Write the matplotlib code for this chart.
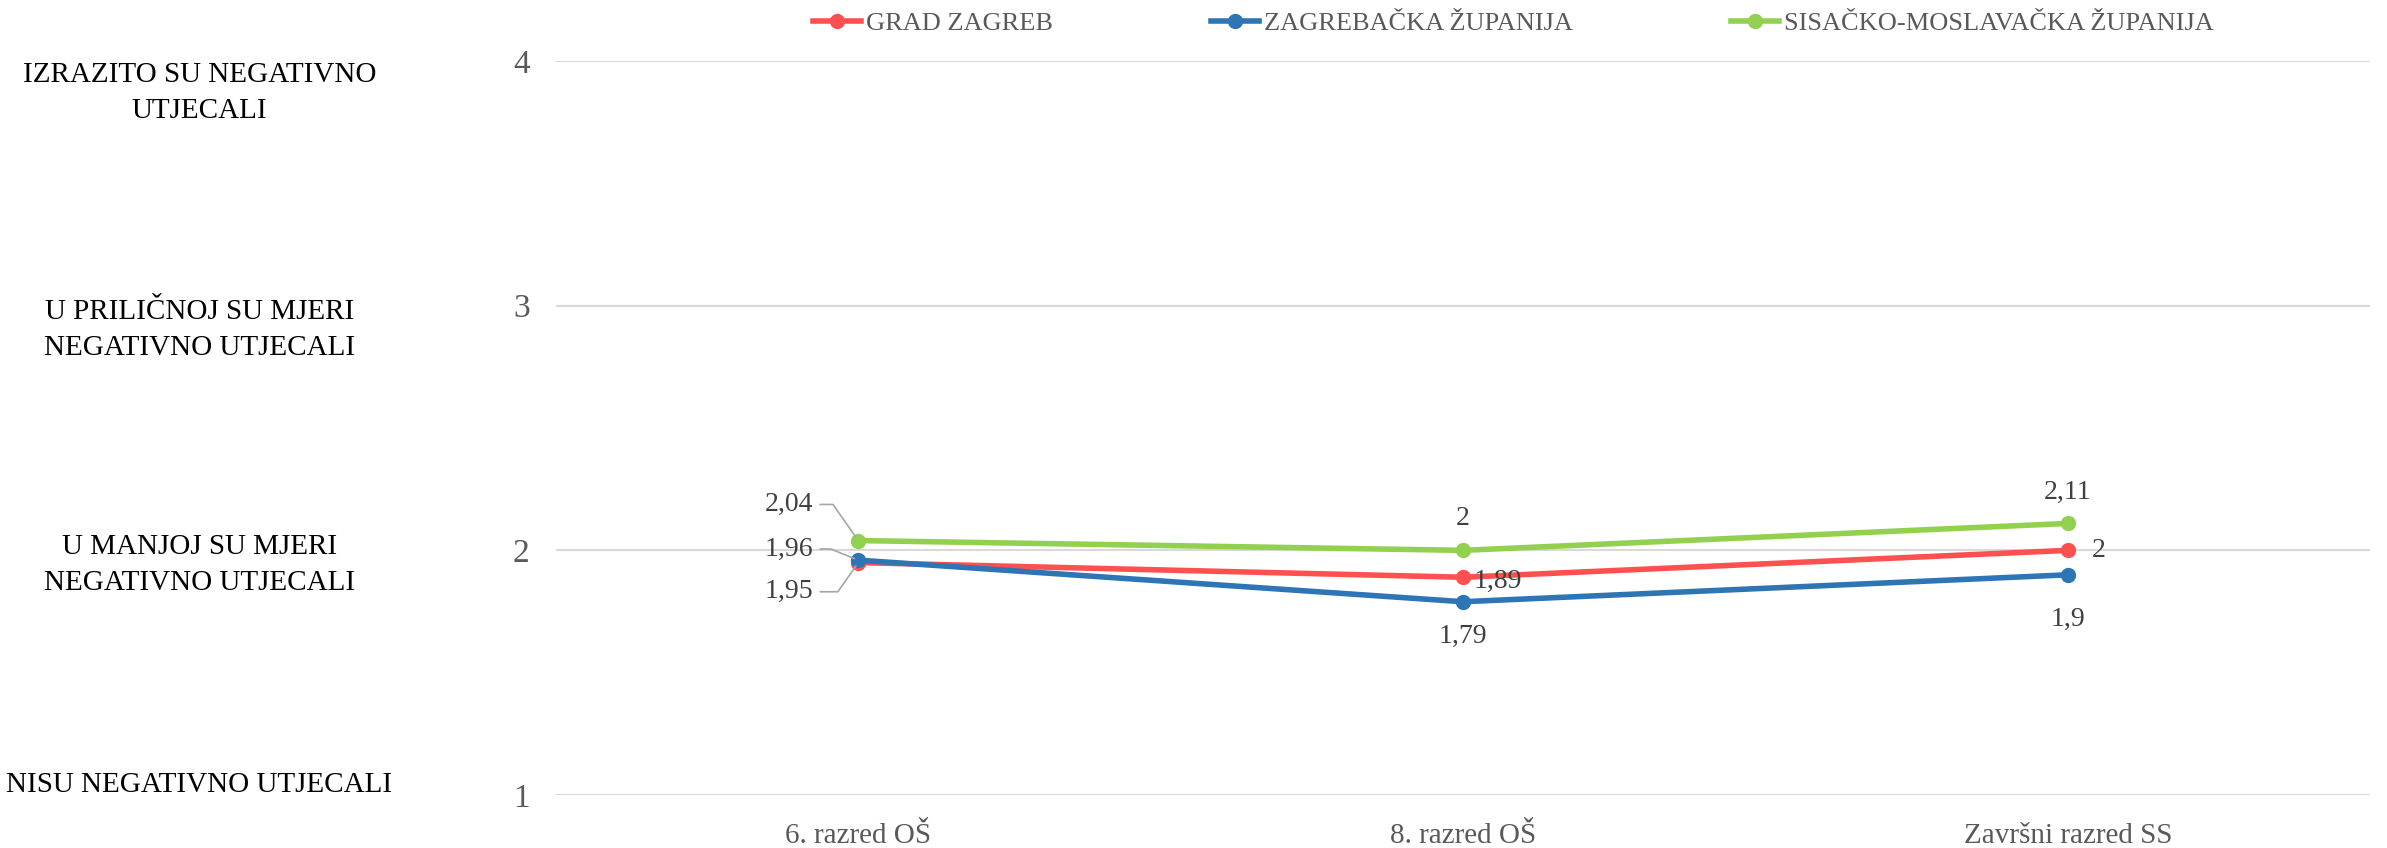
import matplotlib.pyplot as plt
from matplotlib.transforms import blended_transform_factory

plt.rcParams['font.family'] = ['Liberation Serif', 'DejaVu Serif']

# Data
categories = ['6. razred OŠ', '8. razred OŠ', 'Završni razred SS']
series_names = ['GRAD ZAGREB', 'ZAGREBAČKA ŽUPANIJA', 'SISAČKO-MOSLAVAČKA ŽUPANIJA']
grad_zagreb = [1.95, 1.89, 2.00]
zagrebacka = [1.96, 1.79, 1.90]
sisacko = [2.04, 2.00, 2.11]
y_ticks = [1, 2, 3, 4]
scale_labels = ['NISU NEGATIVNO UTJECALI',
                'U MANJOJ SU MJERI\nNEGATIVNO UTJECALI',
                'U PRILIČNOJ SU MJERI\nNEGATIVNO UTJECALI',
                'IZRAZITO SU NEGATIVNO\nUTJECALI']

colors = ['#FF5050', '#2E75B6', '#92D050']
values = [grad_zagreb, zagrebacka, sisacko]

fig = plt.figure(figsize=(23.87, 8.48), dpi=100)
ax = fig.add_axes([0.2329, 0.0625, 0.76, 0.8655])

x = list(range(len(categories)))
for name, vals, c in zip(series_names, values, colors):
    ax.plot(x, vals, color=c, lw=4, marker='o', ms=10, label=name, zorder=3)

ax.set_xlim(-0.5, len(categories) - 0.5)
ax.set_ylim(1, 4)
ax.set_yticks(y_ticks)
ax.set_yticklabels([str(t) for t in y_ticks])
ax.set_xticks(x)
ax.set_xticklabels(categories)
ax.tick_params(axis='y', length=0, pad=19, labelsize=24, labelcolor='#595959')
ax.tick_params(axis='x', length=0, pad=20, labelsize=21, labelcolor='#595959')
ax.grid(axis='y', color='#D9D9D9', lw=1.5)
ax.set_axisbelow(True)
for s in ax.spines.values():
    s.set_visible(False)

# Data labels (offsets in points); leader lines for the crowded first category
offsets = [
    [(-50, -21), (25, -3), (22, 0)],
    [(-50, 8), (0, -25), (0, -32)],
    [(-50, 26), (0, 23), (0, 22)],
]
leader_angle = [[235, None, None], [158, None, None], [125, None, None]]
for vals, offs, angs in zip(values, offsets, leader_angle):
    for xi, v, off, ang in zip(x, vals, offs, angs):
        txt = f'{v:g}'.replace('.', ',')
        kw = {}
        if ang is not None:
            kw['arrowprops'] = dict(arrowstyle='-', color='#A6A6A6', lw=1.2,
                                    shrinkA=3, shrinkB=3,
                                    connectionstyle=f'angle,angleA=0,angleB={ang},rad=0')
        ax.annotate(txt, (xi, v), xytext=off, textcoords='offset points',
                    ha='center', va='center', fontsize=20, color='#404040', **kw)

# Scale labels on the left
tr = blended_transform_factory(fig.transFigure, ax.transData)
label_y = [1.04, 1.94, 2.90, 3.87]
for ly, lab in zip(label_y, scale_labels):
    ax.text(0.0835, ly, lab, transform=tr, ha='center', va='center',
            fontsize=21, color='black', linespacing=1.5)

fig.legend(loc='center', bbox_to_anchor=(0.634, 0.972), ncol=3, frameon=False,
           fontsize=19, handlelength=1.8, handletextpad=0.2, columnspacing=6.0,
           labelcolor='#595959')

fig.savefig('out.png', dpi=100)
